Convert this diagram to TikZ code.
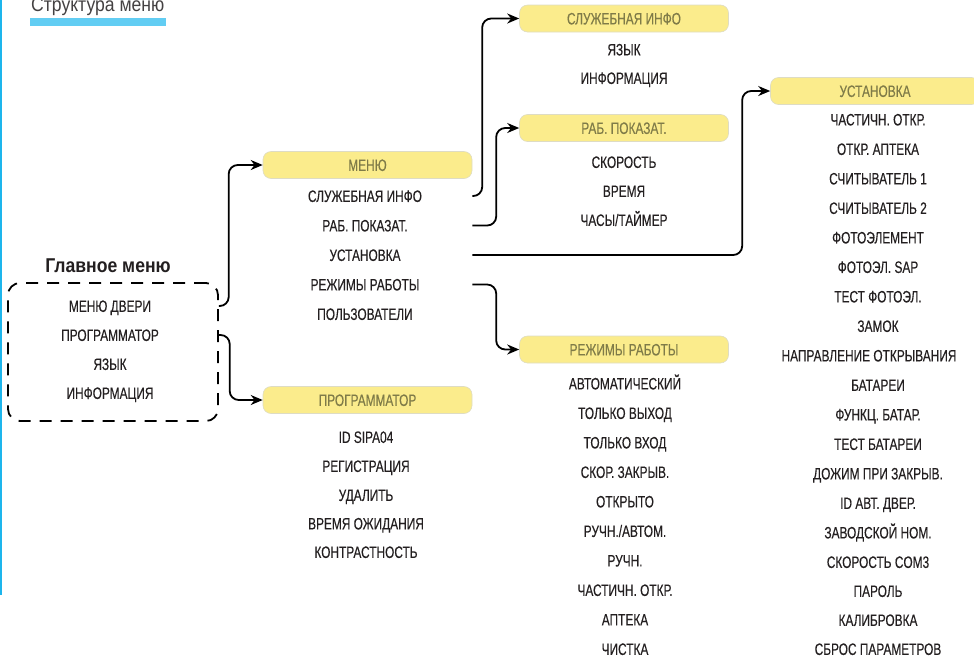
\documentclass[tikz,border=0pt]{standalone}
\usepackage{fontspec}
\setmainfont{Liberation Sans}
\newfontfamily\condfont[FakeStretch=0.72, FakeBold=0.3]{Liberation Sans}
\newfontfamily\titlefont[FakeStretch=0.88]{Liberation Sans}
\usetikzlibrary{arrows.meta}

\definecolor{hdrfill}{HTML}{FBEC8C}
\definecolor{hdrline}{HTML}{DEDCC4}
\definecolor{hdrtext}{HTML}{7F7B48}
\definecolor{itemtext}{HTML}{231F20}
\definecolor{barblue}{HTML}{62CDF3}
\definecolor{edgeblue}{HTML}{1DB5EC}

\tikzset{
  hdr/.style={draw=hdrline, line width=0.6pt, fill=hdrfill, rounded corners=8pt,
    minimum width=209pt, minimum height=27pt, inner sep=0pt, text height=11.8pt,
    text depth=0pt, text=hdrtext, font=\condfont\fontsize{16.5}{19}\selectfont},
  entry/.style={inner sep=0pt, text height=11.8pt, text depth=0pt, text=itemtext,
    font=\condfont\fontsize{16.5}{19}\selectfont},
  link/.style={->, line width=1.8pt, rounded corners=9pt},
}

\begin{document}
\begin{tikzpicture}[x=1pt, y=-1pt, >={Stealth[length=12pt, width=10pt]}]
    \useasboundingbox (0,0) rectangle (974,657);

    \fill[edgeblue] (0,0) rectangle (2,595);
    \node[anchor=base west, inner sep=0pt, text=itemtext!85,
      font=\titlefont\fontsize{20}{23}\selectfont] (title) at (31,11) {Структура меню};
    \fill[barblue] (30,18) rectangle (166,26);

    % main menu
    \node[anchor=base, inner sep=0pt, text=itemtext,
      font=\titlefont\bfseries\fontsize{20}{23}\selectfont] (maintitle) at (108,272) {Главное меню};
    \node[draw, line width=1.8pt, dash pattern=on 12pt off 9pt, rounded corners=12pt,
      minimum width=210pt, minimum height=138pt] (main) at (113,352) {};
    \node[entry] (mdoor) at (110,306) {МЕНЮ ДВЕРИ};
    \node[entry] (mprog) at (110,335) {ПРОГРАММАТОР};
    \node[entry] (mlang) at (110,364) {ЯЗЫК};
    \node[entry] (minfo) at (110,393) {ИНФОРМАЦИЯ};

    % door menu
    \node[hdr] (menu) at (367.5,165) {МЕНЮ};
    \node[entry] (msvc) at (365,196) {СЛУЖЕБНАЯ ИНФО};
    \node[entry] (mperf) at (365,225.5) {РАБ. ПОКАЗАТ.};
    \node[entry] (msetup) at (365,255) {УСТАНОВКА};
    \node[entry] (mmodes) at (365,284.5) {РЕЖИМЫ РАБОТЫ};
    \node[entry] (musers) at (365,314) {ПОЛЬЗОВАТЕЛИ};

    % programmer
    \node[hdr] (prog) at (367.5,400) {ПРОГРАММАТОР};
    \node[entry] (pid) at (366,437) {ID SIPA04};
    \node[entry] (preg) at (366,466) {РЕГИСТРАЦИЯ};
    \node[entry] (pdel) at (366,495) {УДАЛИТЬ};
    \node[entry] (pwait) at (366,523.5) {ВРЕМЯ ОЖИДАНИЯ};
    \node[entry] (pcontr) at (366,552) {КОНТРАСТНОСТЬ};

    % service info
    \node[hdr] (svc) at (624,18.5) {СЛУЖЕБНАЯ ИНФО};
    \node[entry] (slang) at (624,49.5) {ЯЗЫК};
    \node[entry] (sinfo) at (624,78) {ИНФОРМАЦИЯ};

    % work counters
    \node[hdr] (perf) at (624,128) {РАБ. ПОКАЗАТ.};
    \node[entry] (pspeed) at (624,162) {СКОРОСТЬ};
    \node[entry] (ptime) at (624,191) {ВРЕМЯ};
    \node[entry] (pclock) at (624,220) {ЧАСЫ/ТАЙМЕР};

    % operating modes
    \node[hdr] (modes) at (624,349.5) {РЕЖИМЫ РАБОТЫ};
    \node[entry] (oauto) at (625,383.5) {АВТОМАТИЧЕСКИЙ};
    \node[entry] (oexit) at (625,413) {ТОЛЬКО ВЫХОД};
    \node[entry] (oentry) at (625,442.5) {ТОЛЬКО ВХОД};
    \node[entry] (oclose) at (625,472) {СКОР. ЗАКРЫВ.};
    \node[entry] (oopen) at (625,501.5) {ОТКРЫТО};
    \node[entry] (omanauto) at (625,531) {РУЧН./АВТОМ.};
    \node[entry] (omanual) at (625,560.5) {РУЧН.};
    \node[entry] (opart) at (625,590) {ЧАСТИЧН. ОТКР.};
    \node[entry] (opharm) at (625,619.5) {АПТЕКА};
    \node[entry] (oclean) at (625,649) {ЧИСТКА};

    % setup
    \node[hdr] (setup) at (875,91) {УСТАНОВКА};
    \node[entry] (tpart) at (878,119.5) {ЧАСТИЧН. ОТКР.};
    \node[entry] (tpharm) at (878,149) {ОТКР. АПТЕКА};
    \node[entry] (tread1) at (878,178.5) {СЧИТЫВАТЕЛЬ 1};
    \node[entry] (tread2) at (878,208) {СЧИТЫВАТЕЛЬ 2};
    \node[entry] (tphoto) at (878,237.5) {ФОТОЭЛЕМЕНТ};
    \node[entry] (tsap) at (878,267) {ФОТОЭЛ. SAP};
    \node[entry] (tphtest) at (878,296.5) {ТЕСТ ФОТОЭЛ.};
    \node[entry] (tlock) at (878,326) {ЗАМОК};
    \node[entry] (tdir) at (869,355.5) {НАПРАВЛЕНИЕ ОТКРЫВАНИЯ};
    \node[entry] (tbatt) at (878,385) {БАТАРЕИ};
    \node[entry] (tbfunc) at (878,414.5) {ФУНКЦ. БАТАР.};
    \node[entry] (tbtest) at (878,444) {ТЕСТ БАТАРЕИ};
    \node[entry] (tpush) at (878,473.5) {ДОЖИМ ПРИ ЗАКРЫВ.};
    \node[entry] (tid) at (878,503) {ID АВТ. ДВЕР.};
    \node[entry] (tserial) at (878,532.5) {ЗАВОДСКОЙ НОМ.};
    \node[entry] (tcom) at (878,562) {СКОРОСТЬ COM3};
    \node[entry] (tpass) at (878,591) {ПАРОЛЬ};
    \node[entry] (tcal) at (878,620) {КАЛИБРОВКА};
    \node[entry] (treset) at (878,649) {СБРОС ПАРАМЕТРОВ};

    \draw[link] (mdoor -| main.east) -| ([xshift=-34pt]menu.west) -- (menu.west);
    \draw[link] (mprog -| main.east) -| ([xshift=-33pt]prog.west) -- (prog.west);

    \draw[link] (msvc -| menu.east) -| ([xshift=-37pt]svc.west) -- (svc.west);
    \draw[link] (mperf -| menu.east) -| ([xshift=-23pt]perf.west) -- (perf.west);
    \draw[link] (msetup -| menu.east) -| ([xshift=-28pt]setup.west) -- (setup.west);
    \draw[link] (mmodes -| menu.east) -| ([xshift=-23pt]modes.west) -- (modes.west);
\end{tikzpicture}
\end{document}
